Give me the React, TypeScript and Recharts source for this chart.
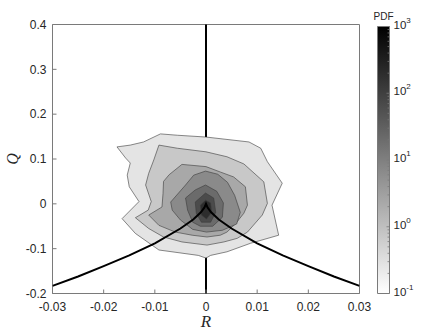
import React from "react"
import { ComposedChart, ReferenceArea, ReferenceLine, Scatter, XAxis, YAxis } from "recharts"

// axis ticks
const rTicks = [-0.03, -0.02, -0.01, 0, 0.01, 0.02, 0.03]
const qTicks = [-0.2, -0.1, 0, 0.1, 0.2, 0.3, 0.4]
const pdfTicks = [0.1, 1, 10, 100, 1000]
const pdfExponents = ["-1", "0", "1", "2", "3"]
const pdfMinorTicks = [
  0.2, 0.3, 0.4, 0.5, 0.6, 0.7, 0.8, 0.9,
  2, 3, 4, 5, 6, 7, 8, 9,
  20, 30, 40, 50, 60, 70, 80, 90,
  200, 300, 400, 500, 600, 700, 800, 900,
]

// contour polygons [R, Q], outermost first
const contour1: [number, number][] = [
  [-0.0174, 0.127], [-0.0148, 0.131], [-0.0122, 0.138], [-0.0089, 0.156], [-0.0056, 0.153],
  [0.0, 0.149], [0.0084, 0.138], [0.0107, 0.124], [0.012, 0.094], [0.0149, 0.046],
  [0.0129, -0.003], [0.0142, -0.07], [0.0087, -0.088], [0.0041, -0.107], [0.0009, -0.115],
  [0.0, -0.121], [-0.0015, -0.115], [-0.0092, -0.103], [-0.0138, -0.066], [-0.0164, -0.033],
  [-0.0131, 0.005], [-0.015, 0.038], [-0.0154, 0.064], [-0.0148, 0.091], [-0.0157, 0.102],
]
const contour2: [number, number][] = [
  [-0.0092, 0.131], [-0.0056, 0.124], [0.0, 0.116], [0.0041, 0.105], [0.0074, 0.089],
  [0.0113, 0.049], [0.012, 0.001], [0.011, -0.025], [0.0081, -0.063], [0.0061, -0.077],
  [0.0035, -0.085], [0.0002, -0.092], [-0.0047, -0.085], [-0.0083, -0.074], [-0.0112, -0.055],
  [-0.0138, -0.031], [-0.0113, -0.014], [-0.0107, 0.005], [-0.0118, 0.042], [-0.0112, 0.068],
  [-0.0102, 0.098],
]
const contour3: [number, number][] = [
  [-0.0047, 0.088], [0.0, 0.083], [0.0028, 0.071], [0.0054, 0.06], [0.0077, 0.038],
  [0.0081, -0.003], [0.0074, -0.021], [0.0058, -0.044], [0.0041, -0.063], [0.0028, -0.07],
  [0.0002, -0.074], [-0.0027, -0.07], [-0.006, -0.063], [-0.0092, -0.048], [-0.0112, -0.025],
  [-0.0086, -0.007], [-0.0084, 0.023], [-0.0083, 0.05], [-0.0072, 0.065],
]
const contour4: [number, number][] = [
  [-0.0069, 0.004], [-0.004, 0.042], [-0.0024, 0.064], [-0.0001, 0.073], [0.0023, 0.066],
  [0.0042, 0.048], [0.0056, 0.019], [0.0067, -0.019], [0.006, -0.045], [0.0032, -0.059],
  [0.0001, -0.063], [-0.0026, -0.057], [-0.005, -0.036], [-0.0066, -0.014],
]
const contour5: [number, number][] = [
  [-0.004, 0.013], [-0.0021, 0.031], [-0.0001, 0.042], [0.0021, 0.028], [0.0034, 0.002],
  [0.0032, -0.03], [0.0013, -0.05], [-0.0011, -0.05], [-0.0026, -0.041], [-0.0036, -0.014],
]
const contour6: [number, number][] = [
  [-0.0021, 0.004], [-0.0001, 0.024], [0.0015, 0.013], [0.0019, -0.019], [0.0009, -0.041],
  [-0.0009, -0.041], [-0.0019, -0.021],
]
const contour7: [number, number][] = [
  [-0.0011, -0.003], [-0.0001, 0.008], [0.0009, 0.002], [0.0011, -0.019], [0.0001, -0.034],
  [-0.0009, -0.025],
]
const contours = [contour1, contour2, contour3, contour4, contour5, contour6, contour7]
const contourFills = ["#e4e4e4", "#c8c8c8", "#a8a8a8", "#8a8a8a", "#6b6b6b", "#4b4b4b", "#2d2d2d"]

// discriminant (Vieillefosse) line
const vfR = [-0.03, -0.025, -0.02, -0.015, -0.01, -0.005, -0.0025, -0.001, -0.0003, 0, 0.0003, 0.001, 0.0025, 0.005, 0.01, 0.015, 0.02, 0.025, 0.03]
const vfQ = [-0.183, -0.162, -0.139, -0.115, -0.088, -0.055, -0.035, -0.019, -0.008, 0, -0.008, -0.019, -0.035, -0.055, -0.088, -0.115, -0.139, -0.162, -0.183]

const font = "'Liberation Sans', Arial, Helvetica, sans-serif"
const serif = "'Liberation Serif', 'Times New Roman', serif"
const textColor = "#262626"
const axisColor = "#7a7a7a"

const toPoints = (c: [number, number][]) => c.map(([r, q]) => ({ r, q }))
const vfData = vfR.map((r, i) => ({ r, q: vfQ[i] }))
const colorbarFrame = [{ x: 0, v: 0.1 }, { x: 1, v: 1000 }]

const noDot = () => <g />

const polygon = (fill: string) => (props: any) => {
  const pts = (props.points || []) as { x: number; y: number }[]
  if (!pts.length) return <g />
  const d = pts.map((p, i) => `${i ? "L" : "M"}${p.x},${p.y}`).join("") + "Z"
  return <path d={d} fill={fill} stroke="#3a3a3a" strokeWidth={0.6} strokeLinejoin="round" />
}

// inward MATLAB-style ticks
function BottomTick(props: any) {
  const { x, y, payload } = props
  return (
    <g>
      <line x1={x} x2={x} y1={y} y2={y - 4} stroke={axisColor} />
      <text x={x} y={y + 17} textAnchor="middle" fontFamily={font} fontSize={12} fill={textColor}>
        {`${payload.value}`}
      </text>
    </g>
  )
}
function LeftTick(props: any) {
  const { x, y, payload } = props
  return (
    <g>
      <line x1={x} x2={x + 4} y1={y} y2={y} stroke={axisColor} />
      <text x={x - 6} y={y + 4.2} textAnchor="end" fontFamily={font} fontSize={12} fill={textColor}>
        {`${payload.value}`}
      </text>
    </g>
  )
}
function TopTick(props: any) {
  const { x, y } = props
  return <line x1={x} x2={x} y1={y} y2={y + 4} stroke={axisColor} />
}
function RightTick(props: any) {
  const { x, y } = props
  return <line x1={x} x2={x - 4} y1={y} y2={y} stroke={axisColor} />
}

function RTitle(props: any) {
  const vb = props.viewBox || {}
  return (
    <text x={vb.x + vb.width / 2} y={vb.y + 33.5} textAnchor="middle" fontFamily={serif} fontStyle="italic" fontSize={17} fill={textColor}>
      R
    </text>
  )
}

function QTitle(props: any) {
  const vb = props.viewBox || {}
  const x = vb.x + 11.5
  const y = vb.y + vb.height / 2
  return (
    <text x={x} y={y} transform={`rotate(-90 ${x} ${y})`} textAnchor="middle" dominantBaseline="central" fontFamily={serif} fontStyle="italic" fontSize={16} fill={textColor}>
      Q
    </text>
  )
}

function PdfTitle(props: any) {
  const vb = props.viewBox || {}
  return (
    <text x={vb.x - 6} y={vb.y - 7} textAnchor="middle" fontFamily={font} fontSize={10} fill={textColor}>
      PDF
    </text>
  )
}

function PdfTick(props: any) {
  const { x, y, payload } = props
  const idx = pdfTicks.indexOf(payload.value)
  const edge = x - 4
  if (idx < 0) {
    return <line x1={edge} x2={edge - 2} y1={y} y2={y} stroke={axisColor} strokeWidth={0.8} />
  }
  return (
    <g>
      <line x1={edge} x2={edge - 3} y1={y} y2={y} stroke={axisColor} strokeWidth={0.8} />
      <text x={x} y={y + 2} fontFamily={font} fontSize={11.5} fill={textColor}>
        10
        <tspan dy={-6} fontSize={8}>{pdfExponents[idx]}</tspan>
      </text>
    </g>
  )
}

export default function App() {
  return (
    <div style={{ position: "absolute", left: 0, top: 0, width: 444, height: 333, background: "#fff" }}>
      <ComposedChart width={444} height={333} margin={{ top: 24.5, right: 84.5, bottom: 0.5, left: 0.5 }}>
        <XAxis
          type="number"
          dataKey="r"
          domain={[-0.03, 0.03]}
          ticks={rTicks}
          interval={0}
          allowDataOverflow
          height={39}
          axisLine={false}
          tickLine={false}
          tickSize={0}
          tickMargin={0}
          tick={<BottomTick />}
          label={<RTitle />}
        />
        <XAxis xAxisId="top" orientation="top" type="number" domain={[-0.03, 0.03]} ticks={rTicks} interval={0} allowDataOverflow height={0} axisLine={false} tickLine={false} tickSize={0} tickMargin={0} tick={<TopTick />} />
        <YAxis
          type="number"
          dataKey="q"
          domain={[-0.2, 0.4]}
          ticks={qTicks}
          interval={0}
          allowDataOverflow
          width={52}
          axisLine={false}
          tickLine={false}
          tickSize={0}
          tickMargin={0}
          tick={<LeftTick />}
          label={<QTitle />}
        />
        <YAxis yAxisId="right" orientation="right" type="number" domain={[-0.2, 0.4]} ticks={qTicks} interval={0} allowDataOverflow width={0} axisLine={false} tickLine={false} tickSize={0} tickMargin={0} tick={<RightTick />} />
        {contours.map((c, i) => (
          <Scatter
            key={i}
            data={toPoints(c)}
            fill={contourFills[i]}
            line={polygon(contourFills[i])}
            lineType="joint"
            shape={noDot}
            legendType="none"
            isAnimationActive={false}
          />
        ))}
        <ReferenceLine x={0} stroke="#000" strokeWidth={2} />
        <Scatter
          data={vfData}
          fill="#000"
          line={{ stroke: "#000", strokeWidth: 2, fill: "none" }}
          lineType="joint"
          shape={noDot}
          legendType="none"
          isAnimationActive={false}
        />
        <ReferenceArea x1={-0.03} x2={0.03} y1={-0.2} y2={0.4} fill="none" fillOpacity={0} stroke={axisColor} strokeWidth={1} ifOverflow="visible" />
      </ComposedChart>
      <div style={{ position: "absolute", left: 360, top: 0 }}>
        <ComposedChart width={84} height={333} margin={{ top: 26.5, right: 0, bottom: 39.5, left: 17.5 }} data={colorbarFrame}>
          <defs>
            <linearGradient id="pdfGrad" x1="0" y1="0" x2="0" y2="1">
              <stop offset="0" stopColor="#000" />
              <stop offset="1" stopColor="#fff" />
            </linearGradient>
          </defs>
          <XAxis type="number" dataKey="x" domain={[0, 1]} hide />
          <YAxis
            orientation="right"
            type="number"
            scale="log"
            dataKey="v"
            domain={[0.1, 1000]}
            ticks={[...pdfTicks, ...pdfMinorTicks]}
            interval={0}
            allowDataOverflow
            width={54.5}
            axisLine={false}
            tickLine={false}
            tickSize={0}
            tickMargin={4}
            tick={<PdfTick />}
            label={<PdfTitle />}
          />
          <ReferenceArea x1={0} x2={1} y1={0.1} y2={1000} fill="url(#pdfGrad)" fillOpacity={1} stroke={axisColor} strokeWidth={1} />
          <Scatter data={colorbarFrame} shape={noDot} legendType="none" isAnimationActive={false} />
        </ComposedChart>
      </div>
    </div>
  )
}
